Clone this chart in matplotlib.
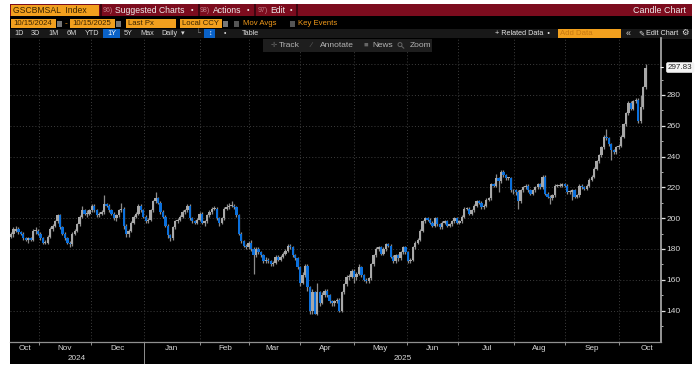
import matplotlib
matplotlib.use("Agg")
import matplotlib.pyplot as plt
from matplotlib.patches import Rectangle, Circle
from matplotlib.lines import Line2D

plt.rcParams['font.family'] = ['Liberation Sans', 'DejaVu Sans']

opens = [188,190,192,193,191,190,187,186,187,186,
 192,192,190,187,184,184,188,193,195,198,
 202,194,190,187,184,183,190,192,196,201,
 205,203,203,205,208,205,202,203,204,209,
 208,205,203,200,202,205,206,195,190,192,
 197,201,203,208,205,201,198,199,205,211,
 213,210,204,201,195,189,187,194,198,199,
 201,204,205,208,200,198,197,199,203,197,
 198,202,204,206,206,200,197,200,206,207,
 208,208,207,202,190,185,182,181,184,180,
 176,180,178,176,172,173,172,170,171,175,
 173,175,177,179,182,181,176,174,168,158,
 163,169,155,140,152,138,152,145,150,153,
 150,146,145,146,147,140,152,157,162,162,
 166,162,164,168,163,160,159,161,170,176,
 180,181,177,180,183,182,175,172,176,174,
 178,181,178,172,173,181,184,186,192,198,
 200,199,197,195,200,196,194,197,198,195,
 196,198,200,197,198,201,206,206,203,205,
 208,211,210,207,208,212,213,222,221,226,
 224,230,228,226,226,218,218,217,211,218,
 220,221,218,216,218,220,222,220,227,216,
 214,213,215,221,221,221,222,221,217,217,
 218,214,215,221,220,219,221,225,227,232,
 237,241,246,253,252,248,244,243,246,247,
 253,261,268,275,271,276,277,263,272,285]
closes = [190,193,193,191,190,187,186,187,186,192,
 192,190,187,184,184,188,193,195,198,202,
 194,190,187,184,183,190,192,196,201,205,
 203,203,205,208,205,202,203,204,209,208,
 205,203,200,202,205,206,195,190,192,197,
 201,203,208,205,201,198,199,205,211,213,
 210,204,201,195,189,187,194,198,199,201,
 204,205,208,200,198,197,199,203,197,198,
 202,204,206,206,200,197,200,206,207,208,
 208,207,202,190,185,182,181,184,180,176,
 180,178,176,172,173,172,170,171,175,173,
 175,177,179,182,181,176,174,168,158,163,
 169,155,140,152,138,152,145,150,153,150,
 146,145,146,147,140,152,157,162,162,166,
 162,164,168,163,160,159,161,170,176,180,
 181,177,180,183,182,175,172,176,174,178,
 181,178,172,173,181,184,186,192,198,200,
 199,197,195,200,196,194,197,198,195,196,
 198,200,197,198,201,206,206,203,205,208,
 211,210,207,208,212,213,222,221,226,224,
 230,228,226,226,218,218,217,211,218,220,
 221,218,216,218,220,222,220,227,216,214,
 213,215,221,221,221,222,221,217,217,218,
 214,215,221,220,219,221,225,227,232,237,
 241,246,253,252,248,244,243,246,247,253,
 261,268,275,271,276,277,263,272,285,297.83]
highs = [191,194,195,194,192,191,188,188,188,193,
 194,193,191,188,186,189,194,196,199,203,
 203,195,191,188,185,191,193,197,202,208,
 206,205,206,209,209,206,204,205,215,210,
 209,206,204,203,206,210,207,196,193,198,
 202,204,209,209,206,202,200,206,212,217,
 214,211,205,202,196,190,195,199,200,202,
 205,206,209,209,201,199,200,204,204,199,
 203,205,207,208,207,201,201,207,209,210,
 211,209,208,203,191,186,183,185,186,181,
 181,181,179,177,175,174,173,172,176,176,
 176,178,180,183,183,182,177,175,169,165,
 170,170,156,154,153,158,153,152,154,154,
 151,147,147,148,148,153,158,163,164,167,
 167,165,170,169,164,161,162,171,177,181,
 182,182,181,184,184,183,176,177,177,179,
 182,182,179,174,182,185,187,193,199,201,
 201,200,198,201,201,197,198,199,199,197,
 199,201,201,199,202,207,207,207,206,209,
 212,212,211,209,213,214,223,223,229,227,
 231,231,229,227,227,219,219,218,219,221,
 222,222,219,219,221,223,223,228,228,217,
 215,216,222,222,223,223,223,222,218,219,
 219,216,222,222,221,222,226,228,233,238,
 242,247,254,258,253,249,245,247,248,254,
 262,269,276,276,277,278,278,280,286,300]
lows = [187,188,191,190,189,186,185,184,185,185,
 190,189,186,183,183,183,187,192,194,197,
 193,189,186,183,181,182,189,191,195,200,
 202,201,202,204,204,201,201,202,203,207,
 204,202,199,198,201,204,193,188,188,191,
 196,200,202,204,200,197,197,198,204,210,
 209,203,200,194,187,185,186,193,197,198,
 200,203,204,199,197,196,196,198,196,195,
 197,201,203,205,199,195,196,199,205,206,
 207,206,201,189,184,181,180,180,179,164,
 175,177,175,171,171,171,169,169,170,172,
 172,174,176,178,180,175,173,167,156,157,
 162,153,138,138,138,137,143,144,149,149,
 145,143,143,145,139,139,151,156,160,161,
 158,160,163,162,159,158,158,160,169,175,
 179,176,176,179,181,174,171,171,172,173,
 177,177,171,171,172,180,183,185,191,197,
 198,196,194,194,195,193,193,196,194,194,
 195,197,196,196,197,200,205,202,202,204,
 207,209,206,206,207,211,212,220,220,217,
 223,227,225,225,217,216,215,206,210,217,
 219,217,215,215,217,219,219,219,215,213,
 209,212,214,220,220,220,220,216,216,212,
 213,213,214,219,218,218,220,224,226,231,
 236,240,245,251,247,238,242,242,245,246,
 252,260,267,270,270,275,262,262,271,284]

month_starts = [11.4,32.7,54.3,77,97.1,118,140,161.6,182.4,205.3,226.1,248]
month_label_pos = [5.7,22,43.3,65.3,87.3,106.5,128.2,150.6,172.2,194.3,215.5,237.1,259.6]
month_labels = ["Oct","Nov","Dec","Jan","Feb","Mar","Apr","May","Jun","Jul","Aug","Sep","Oct"]
year_label_pos = [27, 159.7]
year_labels = ["2024","2025"]
y_major = [140,160,180,200,220,240,260,280]
y_minor = [130,150,170,190,210,230,250,270,290]
y_grid_extra = [300]
last_value = 297.83

W, H = 700, 368
fig = plt.figure(figsize=(7.0, 3.68), dpi=100, facecolor='white')

def box(x0, y0, x1, y1, color, z=1):
    fig.add_artist(Rectangle((x0/W, 1-y1/H), (x1-x0)/W, (y1-y0)/H,
                             transform=fig.transFigure, fc=color, ec='none', zorder=z))

def label(x, y, s, color='#d0d0d0', size=5.8, ha='left', z=5):
    fig.text(x/W, 1-y/H, s, color=color, fontsize=size, ha=ha, va='center', zorder=z)

ORANGE = '#f2a01e'
ORTXT = '#f29a1a'
box(10, 4, 692, 364, 'black', 0)
box(10, 4, 692, 16, '#7c0c1e', 1)
box(11, 5, 99, 15.5, ORANGE, 2)
label(13, 10.3, "GSCBMSAL  Index", '#3a2400', 6.2)
box(100, 4, 101.5, 16, '#3c0610', 2)
box(198, 4, 199.5, 16, '#3c0610', 2)
box(254, 4, 255.5, 16, '#3c0610', 2)
box(296, 4, 297.5, 16, '#3c0610', 2)
label(103, 10.3, "96)", '#c08088', 5.0)
label(115, 10.3, "Suggested Charts", '#ececec', 6.2)
label(191, 10.3, "\u2022", '#ececec', 5.4)
label(200, 10.3, "98)", '#c08088', 5.0)
label(213, 10.3, "Actions", '#ececec', 6.2)
label(247, 10.3, "\u2022", '#ececec', 5.4)
label(258, 10.3, "97)", '#c08088', 5.0)
label(270, 10.3, "Edit", '#ececec', 6.2)
label(290, 10.3, "\u2022", '#ececec', 5.4)
label(686, 10.3, "Candle Chart", '#ececec', 6.4, ha='right')

for x0, x1, s in [(11, 56, "10/15/2024"), (70, 115, "10/15/2025"),
                  (126, 176, "Last Px"), (180, 222, "Local CCY")]:
    box(x0, 19.5, x1, 28, ORANGE, 2)
    label(x0+2, 23.8, s, '#3a2400', 5.6)
box(57, 20.5, 62, 27, '#777777', 2)
box(116, 20.5, 121, 27, '#777777', 2)
box(223, 20.5, 228, 27, '#777777', 2)
label(65, 23.8, "-", ORTXT, 6.0)
box(234, 21, 239, 27, '#555555', 2)
label(243, 23.8, "Mov Avgs", ORTXT, 5.6)
box(290, 21, 295, 27, '#555555', 2)
label(298, 23.8, "Key Events", ORTXT, 5.6)

box(10, 29, 692, 38.5, '#181818', 1)
for x, s in [(19, "1D"), (35, "3D"), (54, "1M"), (72, "6M"), (92, "YTD"), (128, "5Y"), (147, "Max"),
             (250, "Table")]:
    label(x, 33.8, s, '#d8d8d8', 5.2, ha='center')
box(103, 29, 120, 38.5, '#0a62c8', 2)
label(111.5, 33.8, "1Y", '#ffffff', 5.2, ha='center')
label(161, 33.8, "Daily", '#d8d8d8', 5.2)
label(183, 33.8, "\u25BE", '#d8d8d8', 5.2, ha='center')
box(204, 29, 215, 38.5, '#0a62c8', 2)
label(209.5, 33.8, "\u2195", '#ffffff', 5.0, ha='center')
label(198, 33.8, "\u2514", '#888888', 5.0, ha='center')
label(225, 33.8, "\u2022", '#d8d8d8', 5.0, ha='center')
label(495, 33.8, "+ Related Data  \u2022", '#e4e4e4', 5.2)
box(558, 29.5, 621, 38, ORANGE, 2)
label(560, 33.8, "Add Data", '#c87810', 5.6)
label(628, 33.8, "\u00AB", '#d8d8d8', 6.4, ha='center')
label(641, 33.8, "\u270E", '#e4e4e4', 5.2, ha='center')
label(646, 33.8, "Edit Chart", '#e4e4e4', 5.2)
label(685, 33.8, "\u2699", '#e4e4e4', 6.0, ha='center')

ax = fig.add_axes([10/W, 1-342/H, 651/W, 304/H], facecolor='black', zorder=2)
ax.set_xlim(-0.41, 265.3)
ax.set_ylim(119.6, 317)

xs = list(range(len(closes)))
GRAY = '#a8a8a8'
BLUE = '#0b70dc'
for x, o, h, l, c in zip(xs, opens, highs, lows, closes):
    col = GRAY if c >= o else BLUE
    ax.vlines(x, l, h, color='#8c8c8c', lw=0.9, zorder=3)
    bottom, top = min(o, c), max(o, c)
    ax.bar(x, max(top-bottom, 0.6), bottom=bottom, width=0.95, color=col, lw=0, zorder=4)

grid_kw = dict(color='#3e3e3e', lw=0.7, ls=(0, (1, 2.2)), zorder=1)
for v in y_major + y_grid_extra:
    ax.axhline(v, **grid_kw)
for v in month_starts:
    ax.axvline(v, **grid_kw)

for s in ['top', 'left']:
    ax.spines[s].set_visible(False)
ax.spines['right'].set_color('#b0b0b0')
ax.spines['right'].set_linewidth(1.2)
ax.spines['bottom'].set_color('#909090')
ax.spines['bottom'].set_linewidth(0.9)

ax.yaxis.tick_right()
ax.set_yticks(y_major)
ax.set_yticklabels([str(v) for v in y_major], color='#d8d8d8', fontsize=6.0)
ax.set_yticks(y_minor, minor=True)
ax.tick_params(axis='y', which='major', length=3, width=0.9, color='#e0e0e0', pad=0.8)
ax.tick_params(axis='y', which='minor', length=1.5, width=0.7, color='#b0b0b0')
ax.set_xticks(month_starts)
ax.set_xticklabels([])
ax.tick_params(axis='x', length=2, width=0.7, color='#909090')

ax.annotate(f"{last_value:.2f}", xy=(1.0, last_value), xycoords=('axes fraction', 'data'),
            xytext=(5.0, 0), textcoords='offset points', fontsize=5.8, color='#222222',
            va='center', ha='left', annotation_clip=False, zorder=6,
            bbox=dict(boxstyle='round,pad=0.22', fc='#f4f4f4', ec='none'),
            arrowprops=dict(arrowstyle='-', color='#f4f4f4', lw=0.8))

trans = ax.get_xaxis_transform()
for x, s in zip(month_label_pos, month_labels):
    ax.text(x, -7/304, s, transform=trans, color='#d8d8d8', fontsize=5.9, ha='center', va='center',
            clip_on=False)
for x, s in zip(year_label_pos, year_labels):
    ax.text(x, -17/304, s, transform=trans, color='#d8d8d8', fontsize=5.9, ha='center', va='center',
            clip_on=False)
ax.plot([month_starts[2]]*2, [-0.002, -21/304], transform=trans, color='#909090', lw=0.7, clip_on=False)

# floating toolbar above the plot (figure-level, drawn over the axes)
bar_ax = fig.add_axes([0, 0, 1, 1], facecolor='none', zorder=6)
bar_ax.set_xlim(0, W); bar_ax.set_ylim(H, 0); bar_ax.axis('off')
bar_ax.add_patch(Rectangle((263, 39), 169, 12.5, fc='#1e1e1e', ec='none'))
for x, s in [(279, "Track"), (320, "Annotate"), (372, "News"), (410, "Zoom")]:
    bar_ax.text(x, 45.2, s, color='#b4b4b4', fontsize=6.0, va='center')
for x, s in [(271, "\u271B"), (311, "\u2215"), (363, "\u25A0")]:
    bar_ax.text(x, 45.2, s, color='#666666', fontsize=5.4, va='center')
bar_ax.add_patch(Circle((400, 44.6), 2.0, fc='none', ec='#666666', lw=0.7))
bar_ax.add_line(Line2D([401.5, 403.8], [46.2, 48.2], color='#666666', lw=0.7))

fig.savefig("out.png", dpi=100, facecolor='white')
